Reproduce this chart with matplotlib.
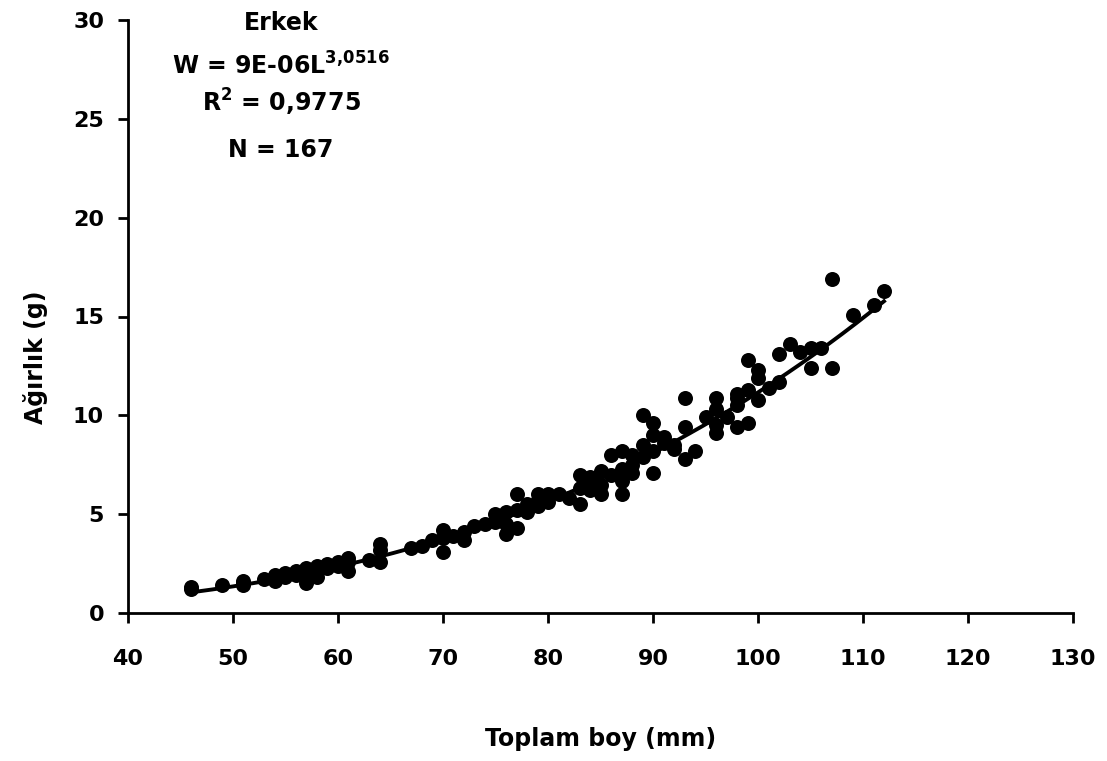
import matplotlib
matplotlib.use("Agg")
import matplotlib.pyplot as plt
import numpy as np

plt.rcParams['font.family'] = ['DejaVu Sans']
plt.rcParams['mathtext.fontset'] = 'custom'
plt.rcParams['mathtext.rm'] = 'DejaVu Sans:bold'
plt.rcParams['mathtext.bf'] = 'DejaVu Sans:bold'
plt.rcParams['mathtext.it'] = 'DejaVu Sans:bold'

# Observed lengths (mm) and weights (g)
length_mm = [46, 46, 49, 51, 51, 51, 53, 54, 54, 55, 55, 56, 56, 57, 57, 57,
             58, 58, 58, 59, 59, 60, 60, 61, 61, 61, 63, 64, 64, 64, 67, 68, 69,
             70, 70, 70, 71, 72, 72, 73, 74, 75, 75, 76, 76, 76, 77, 77, 77,
             78, 78, 79, 79, 79, 80, 80, 81, 82, 83, 83, 83, 84, 84, 84,
             85, 85, 85, 86, 86, 87, 87, 87, 87, 88, 88, 88, 89, 89, 89,
             90, 90, 90, 90, 91, 91, 92, 92, 93, 93, 93, 94, 95,
             96, 96, 96, 96, 97, 98, 98, 98, 98, 99, 99, 99,
             100, 100, 100, 101, 102, 102, 103, 104, 105, 105, 106,
             107, 107, 109, 111, 112]
weight_g = [1.3, 1.2, 1.4, 1.5, 1.4, 1.6, 1.7, 1.9, 1.6, 1.8, 2.0, 2.1, 1.9, 2.3, 1.5, 2.0,
            2.4, 1.8, 2.2, 2.3, 2.5, 2.6, 2.4, 2.8, 2.1, 2.6, 2.7, 3.5, 2.6, 3.2, 3.3, 3.4, 3.7,
            4.2, 3.1, 3.8, 3.9, 4.1, 3.7, 4.4, 4.5, 5.0, 4.6, 5.1, 4.0, 4.5, 6.0, 4.3, 5.2,
            5.1, 5.5, 6.0, 5.4, 5.7, 5.6, 6.0, 6.0, 5.8, 7.0, 5.5, 6.3, 6.9, 6.2, 6.6,
            7.2, 6.0, 6.5, 8.0, 7.0, 8.2, 7.3, 6.0, 6.7, 7.5, 8.0, 7.1, 10.0, 8.5, 7.9,
            9.6, 9.0, 8.2, 7.1, 8.9, 8.6, 8.5, 8.3, 10.9, 9.4, 7.8, 8.2, 9.9,
            10.9, 10.3, 9.1, 9.5, 9.9, 10.9, 11.1, 9.4, 10.5, 12.8, 11.3, 9.6,
            12.3, 11.9, 10.8, 11.4, 13.1, 11.7, 13.6, 13.2, 13.4, 12.4, 13.4,
            16.9, 12.4, 15.1, 15.6, 16.3]

# Power fit W = a * L^b
fit_a = 8.8e-6
fit_b = 3.0516

x_ticks = [40, 50, 60, 70, 80, 90, 100, 110, 120, 130]
y_ticks = [0, 5, 10, 15, 20, 25, 30]

W_PX, H_PX = 1107, 761
fig = plt.figure(figsize=(W_PX / 100, H_PX / 100), dpi=100)
ax = fig.add_axes([128 / W_PX, 1 - 613 / H_PX, 945 / W_PX, 593 / H_PX])

ax.scatter(length_mm, weight_g, s=10.8**2, color='black', zorder=3, linewidths=0)
L = np.linspace(min(length_mm), max(length_mm), 200)
ax.plot(L, fit_a * L ** fit_b, color='black', lw=2.8, zorder=2)

ax.set_xlim(40, 130)
ax.set_ylim(0, 30)
ax.set_xticks(x_ticks)
ax.set_yticks(y_ticks)
for s in ['top', 'right']:
    ax.spines[s].set_visible(False)
for s in ['left', 'bottom']:
    ax.spines[s].set_linewidth(2.0)
ax.tick_params(direction='out', length=7.2, width=2.0, labelsize=16)
ax.tick_params(axis='x', pad=18.5)
ax.tick_params(axis='y', pad=10)
for t in ax.get_xticklabels() + ax.get_yticklabels():
    t.set_fontweight('bold')

ax.set_xlabel('Toplam boy (mm)', fontsize=17, fontweight='bold')
ax.xaxis.set_label_coords(0.5, (613 - 727) / 593)
ax.set_ylabel('Ağırlık (g)', fontsize=17, fontweight='bold')
ax.yaxis.set_label_coords((47.5 - 128) / 945, (613 - 357) / 593)

tx = 281 / W_PX
fig.text(tx, 1 - 30.5 / H_PX, 'Erkek', ha='center', va='baseline', fontsize=17, fontweight='bold')
fig.text(tx, 1 - 75 / H_PX, r'W = 9E-06L$^{3{,}0516}$', ha='center', va='baseline', fontsize=17, fontweight='bold')
fig.text(tx, 1 - 112 / H_PX, r'R$^{2}$ = 0,9775', ha='center', va='baseline', fontsize=17, fontweight='bold')
fig.text(tx, 1 - 157 / H_PX, 'N = 167', ha='center', va='baseline', fontsize=17, fontweight='bold')

fig.savefig('out.png', dpi=100)
